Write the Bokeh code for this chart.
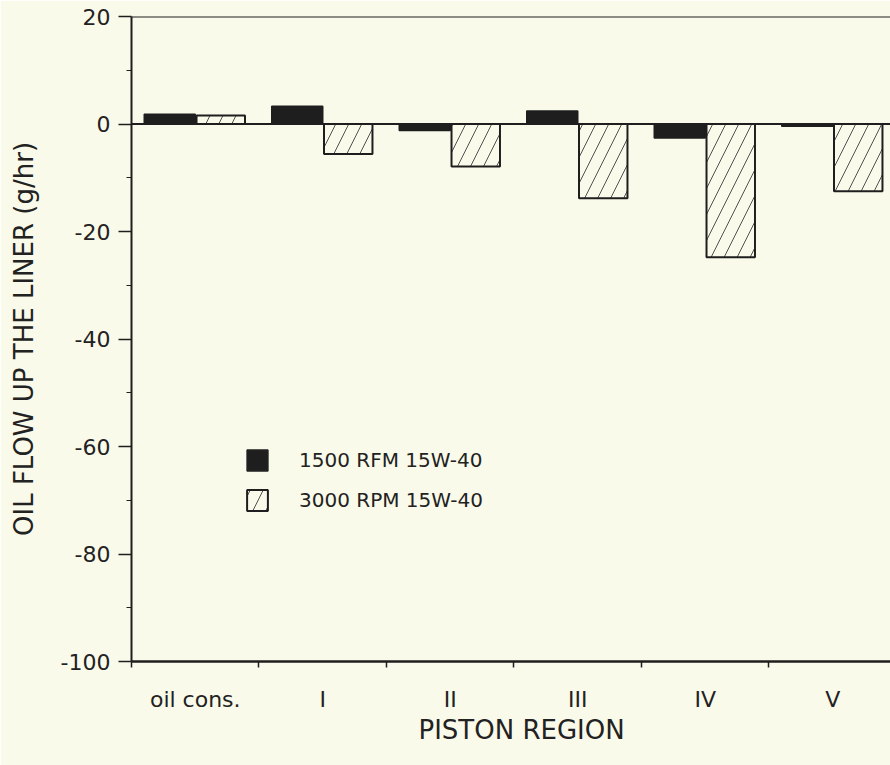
from bokeh.plotting import figure
from bokeh.models import Range1d, FixedTicker, Span, Legend, LegendItem, ColumnDataSource, Title
from bokeh.embed import file_html
from bokeh.resources import INLINE

# ---- data ----
regions = ["oil cons.", "I", "II", "III", "IV", "V"]
rpm1500 = [1.8, 3.3, -1.2, 2.4, -2.6, -0.4]
rpm3000 = [1.6, -5.6, -7.9, -13.8, -24.8, -12.5]
series_names = ["1500 RFM 15W-40", "3000 RPM 15W-40"]
y_ticks = [-100, -80, -60, -40, -20, 0, 20]
y_minor = [-90, -70, -50, -30, -10, 10]

BG = "#fafaea"
INK = "#1e1e1e"
FONT = "DejaVu Sans"

n = len(regions)
centers = [i + 0.5 for i in range(n)]
src1 = ColumnDataSource(dict(x=[c - 0.2 for c in centers], top=rpm1500))
src2 = ColumnDataSource(dict(x=[c + 0.2 for c in centers], top=rpm3000))

p = figure(width=890, height=765, output_backend="svg", toolbar_location=None,
           x_range=Range1d(0, 5.953), y_range=Range1d(-100, 20),
           min_border_left=131, min_border_right=0, min_border_top=16, min_border_bottom=104)
p.background_fill_color = BG
p.border_fill_color = BG
p.outline_line_color = None
p.grid.visible = False

# zero line and top frame line
p.add_layout(Span(location=0, dimension="width", line_color=INK, line_width=2))
p.add_layout(Span(location=20, dimension="width", line_color=INK, line_width=2))

r1 = p.vbar(x="x", top="top", bottom=0, width=0.4, source=src1,
            fill_color=INK, line_color=INK, line_width=1.5)
r2 = p.vbar(x="x", top="top", bottom=0, width=0.38, source=src2,
            fill_color=BG, line_color=INK, line_width=2,
            hatch_pattern="/", hatch_color="#505050", hatch_scale=26, hatch_weight=1)

# y axis
ya = p.yaxis[0]
ya.ticker = FixedTicker(ticks=y_ticks, minor_ticks=y_minor)
ya.major_label_overrides = {t: str(t) for t in y_ticks}
ya.axis_line_width = 2
ya.axis_line_color = INK
ya.major_tick_line_color = INK
ya.major_tick_line_width = 1.5
ya.major_tick_out = 13
ya.major_tick_in = 0
ya.minor_tick_line_color = INK
ya.minor_tick_out = 5
ya.minor_tick_in = 0
ya.major_label_standoff = 8
ya.major_label_text_font = FONT
ya.major_label_text_font_size = "22px"
ya.major_label_text_color = "#222222"
ya.axis_label = "OIL FLOW UP THE LINER (g/hr)"
ya.axis_label_text_font = FONT
ya.axis_label_text_font_size = "26px"
ya.axis_label_text_font_style = "normal"
ya.axis_label_text_color = "#222222"
ya.axis_label_standoff = 19

# x axis
xa = p.xaxis[0]
xa.ticker = FixedTicker(ticks=centers, minor_ticks=list(range(n + 1)))
xa.major_label_overrides = {c: r for c, r in zip(centers, regions)}
xa.axis_line_width = 2.5
xa.axis_line_color = INK
xa.major_tick_line_color = None
xa.major_tick_out = 0
xa.major_tick_in = 0
xa.minor_tick_line_color = INK
xa.minor_tick_line_width = 1.5
xa.minor_tick_out = 6
xa.minor_tick_in = 0
xa.major_label_standoff = 19
xa.major_label_text_font = FONT
xa.major_label_text_font_size = "22px"
xa.major_label_text_color = "#222222"

xtitle = Title(text="PISTON REGION", align="left", offset=287, standoff=0,
               vertical_align="top",
               text_font=FONT, text_font_size="26px", text_font_style="normal",
               text_color="#222222")
p.add_layout(xtitle, "below")

legend = Legend(items=[LegendItem(label=series_names[0], renderers=[r1]),
                       LegendItem(label=series_names[1], renderers=[r2])],
                location=(113, 148), orientation="vertical",
                glyph_width=26, glyph_height=26, spacing=14,
                label_standoff=29, label_text_font=FONT, label_text_font_size="20px",
                label_text_color="#222222", label_height=26,
                padding=0, margin=0, border_line_color=None,
                background_fill_alpha=0)
p.add_layout(legend, "center")

open("out.html", "w").write(file_html(p, INLINE))
